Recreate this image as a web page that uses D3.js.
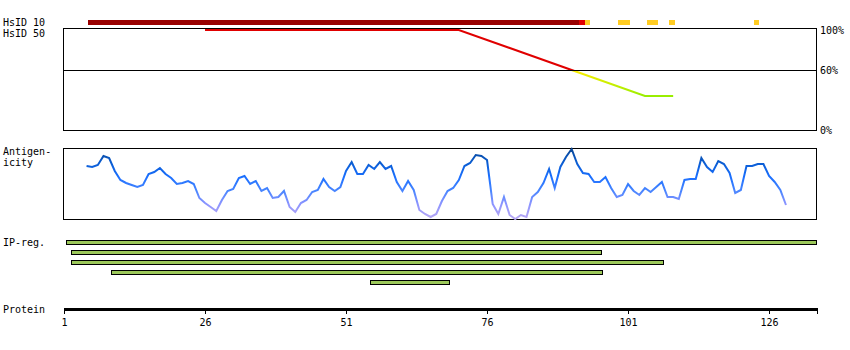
<!DOCTYPE html>
<html>
<head>
<meta charset="utf-8">
<script src="https://cdn.jsdelivr.net/npm/d3@7"></script>
<style>
    body { margin: 0; background: #fff; }
    text { font-family: "DejaVu Sans Mono", monospace; font-size: 10px; fill: #000; }
</style>
</head>
<body>
<div id="chart"></div>
<script>
// protein length and axis ticks
const proteinLength = 134.5;
const axisTicks = [1, 26, 51, 76, 101, 126];

// HsID 10 blocks: [start residue, end residue, class]
const hsid10Blocks = [
    [5, 91, "high"],
    [92, 92, "mid"],
    [93, 93, "low"],
    [99, 100, "low"],
    [104, 105, "low"],
    [108, 108, "low"],
    [123, 123, "low"]
];

// HsID 50 identity curve: [residue, identity %]
const identityPoints = [[26, 100], [71, 100], [91, 60], [104, 34], [109, 34]];
const identityTicks = [100, 60, 0];

// antigenicity profile, residues 5..129
const antigenStart = 5;
const antigenicity = [
    54, 53, 55, 64, 62, 49, 40, 37, 35, 33, 35, 46, 48, 52, 46, 42,
    36, 37, 39, 36, 22, 17, 13, 9, 20, 29, 31, 42, 44, 36, 39, 29,
    32, 22, 23, 29, 13, 8, 17, 20, 28, 30, 41, 33, 29, 33, 49, 58,
    46, 46, 55, 51, 58, 51, 54, 38, 29, 39, 30, 10, 6, 3, 6, 19,
    29, 32, 40, 54, 57, 65, 64, 60, 16, 6, 23, 5, 1, 5, 3, 23,
    28, 37, 51, 32, 53, 63, 71, 56, 47, 46, 38, 38, 43, 32, 23, 25,
    36, 29, 25, 32, 28, 33, 38, 23, 23, 21, 40, 41, 41, 62, 53, 48,
    59, 56, 47, 27, 30, 54, 54, 56, 56, 44, 38, 30, 15
];

// interpro regions: [start residue, end residue]
const ipRegions = [[1, 133], [2, 95], [2, 106], [9, 95], [55, 68]];

const blockColors = { high: "#990000", mid: "#e00000", low: "#ffcc22" };

const width = 850, height = 350;
const left = 64, right = 817;

let svg = d3.select("#chart")
    .append("svg")
    .attr("width", width)
    .attr("height", height);

let x = d3.scaleLinear()
    .domain([1, proteinLength])
    .range([left, right]);

// residue blocks are drawn slightly offset from the tick positions
const bx = (p) => x(p + 0.3);

//Row labels
const labels = [
    ["HsID 10", 26], ["HsID 50", 37], ["Antigen-", 155], ["icity", 166],
    ["IP-reg.", 246], ["Protein", 313]
];
svg.append("g")
    .selectAll("text")
    .data(labels)
    .join("text")
    .attr("x", 3)
    .attr("y", d => d[1])
    .text(d => d[0]);

//HsID 10 bar
svg.append("g")
    .attr("shape-rendering", "crispEdges")
    .selectAll("rect")
    .data(hsid10Blocks)
    .join("rect")
    .attr("x", d => bx(d[0]))
    .attr("y", 20)
    .attr("width", d => bx(d[1] + 1) - bx(d[0]))
    .attr("height", 5)
    .attr("fill", d => blockColors[d[2]]);

//HsID 50 panel
let yId = d3.scaleLinear()
    .domain([0, 100])
    .range([130, 30]);

//colour of the identity line depends on the level
let defs = svg.append("defs");
let idGrad = defs.append("linearGradient")
    .attr("id", "idgrad")
    .attr("gradientUnits", "userSpaceOnUse")
    .attr("x1", 0).attr("x2", 0)
    .attr("y1", yId(100)).attr("y2", yId(0));
[
    [100, "#e00000"], [60.5, "#e00000"], [60, "#ffee00"], [34, "#99ee00"], [0, "#33cc00"]
].forEach(s => {
    idGrad.append("stop")
        .attr("offset", (100 - s[0]) / 100)
        .attr("stop-color", s[1]);
});

svg.append("path")
    .datum(identityPoints)
    .attr("d", d3.line().x(d => x(d[0])).y(d => yId(d[1])))
    .attr("fill", "none")
    .attr("stroke", "url(#idgrad)")
    .attr("stroke-width", 2);

svg.append("rect")
    .attr("x", left - 0.5)
    .attr("y", 28.5)
    .attr("width", right - left)
    .attr("height", 101.5)
    .attr("fill", "none")
    .attr("stroke", "black")
    .attr("shape-rendering", "crispEdges");

svg.append("line")
    .attr("x1", left)
    .attr("x2", right)
    .attr("y1", 70.5)
    .attr("y2", 70.5)
    .attr("stroke", "black")
    .attr("shape-rendering", "crispEdges");

svg.append("g")
    .selectAll("text")
    .data(identityTicks)
    .join("text")
    .attr("x", 820)
    .attr("y", d => yId(d) + 4)
    .text(d => d + "%");

//Antigenicity panel
let yAg = d3.scaleLinear()
    .domain([0, 72])
    .range([220, 148]);

svg.append("rect")
    .attr("x", left - 0.5)
    .attr("y", 148.5)
    .attr("width", right - left)
    .attr("height", 71)
    .attr("fill", "none")
    .attr("stroke", "black")
    .attr("shape-rendering", "crispEdges");

let agGrad = defs.append("linearGradient")
    .attr("id", "aggrad")
    .attr("gradientUnits", "userSpaceOnUse")
    .attr("x1", 0).attr("x2", 0)
    .attr("y1", yAg(72)).attr("y2", yAg(0));
[
    [0, "#0a4590"], [0.2, "#0a5cd0"], [0.4, "#1a6fff"], [0.6, "#4a86ff"], [0.78, "#8c94ff"], [1, "#bcaaf2"]
].forEach(s => {
    agGrad.append("stop")
        .attr("offset", s[0])
        .attr("stop-color", s[1]);
});

svg.append("path")
    .datum(antigenicity)
    .attr("d", d3.line().x((d, i) => x(antigenStart + i)).y(d => yAg(d)))
    .attr("fill", "none")
    .attr("stroke", "url(#aggrad)")
    .attr("stroke-width", 2);

//IP regions
svg.append("g")
    .attr("shape-rendering", "crispEdges")
    .selectAll("rect")
    .data(ipRegions)
    .join("rect")
    .attr("x", d => Math.round(bx(d[0])) + 0.5)
    .attr("y", (d, i) => 240.5 + i * 10)
    .attr("width", d => Math.round(bx(d[1] + 1) - bx(d[0])))
    .attr("height", 4)
    .attr("fill", "#9cc85a")
    .attr("stroke", "black");

//Protein axis
let axis = svg.append("g")
    .attr("shape-rendering", "crispEdges");

axis.append("rect")
    .attr("x", left)
    .attr("y", 308)
    .attr("width", right - left)
    .attr("height", 3)
    .attr("fill", "black");

axis.selectAll("line")
    .data(axisTicks.concat([proteinLength]))
    .join("line")
    .attr("x1", d => Math.round(x(d)) + 0.5)
    .attr("x2", d => Math.round(x(d)) + 0.5)
    .attr("y1", 308)
    .attr("y2", 314)
    .attr("stroke", "black");

axis.selectAll("text")
    .data(axisTicks)
    .join("text")
    .attr("x", d => Math.round(x(d)) + 0.5)
    .attr("y", 326)
    .attr("text-anchor", "middle")
    .text(d => d);
</script>
</body>
</html>
